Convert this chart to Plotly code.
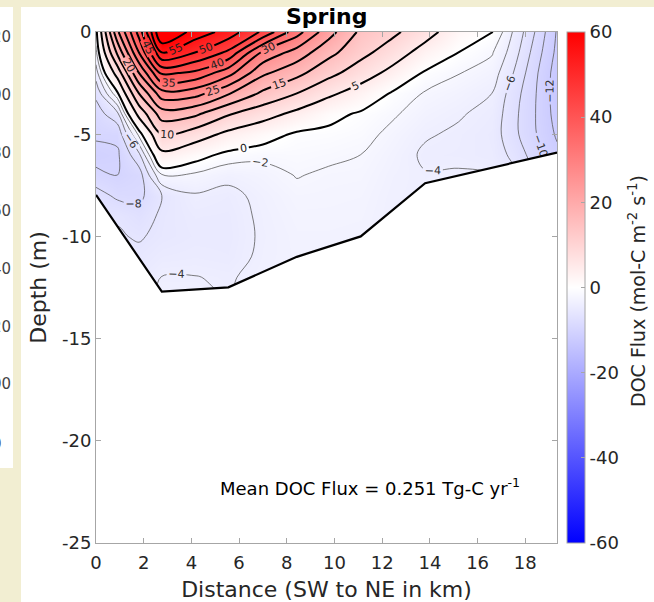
import plotly.graph_objects as go

# ---------------- data ----------------
DIST_KM = [0, 0.9, 1.8, 2.76, 4.15, 5.55, 7.0, 8.42, 9.75, 11.1, 12.45, 13.8, 15.2, 16.6, 17.5, 18.4, 19.33]
DEPTH_M = [0, -1, -2, -3, -4, -5, -6, -7, -8, -9, -10, -11, -12, -13]

# DOC flux, one list per depth level (top to bottom), one value per station
FLUX_0 = [-1, 24, 42, 66, 58, 53, 44, 32, 22, 14, 11, 7, 2, 0.2, -4.2, -8.0, -12.2]
FLUX_1 = [-2.5, 16, 35, 55, 50, 44, 29, 23, 16.5, 11.5, 7.5, 3, 0, -1.8, -5.0, -8.8, -12.5]
FLUX_2 = [-5, 7, 25, 41, 39, 32, 21, 16.5, 11.5, 7.5, 3.5, -0.4, -1.9, -3.0, -6.0, -9.5, -13]
FLUX_3 = [-7.5, -0.5, 15, 28, 27, 20.5, 14, 10, 6, 2.8, -0.4, -2.2, -3.0, -4.0, -7.0, -9.8, -13]
FLUX_4 = [-9, -6.5, 6.5, 17.5, 16, 10.5, 7, 3.8, 1, -0.4, -1.7, -3.1, -3.8, -4.6, -7.4, -9.9, -12.8]
FLUX_5 = [-9.6, -9.5, -1.5, 10, 7.5, 3.8, 1.5, -0.5, -0.7, -1.2, -2.6, -3.8, -4.3, -4.9, -7.4, -9.8, -12.3]
FLUX_6 = [-10.8, -10.3, -6.5, 3.8, 1.3, -0.8, -1.5, -1.3, -1.6, -2.0, -3.1, -4.3, -4.4, -4.8, -6.5, -9.0, -11.5]
FLUX_7 = [-9.5, -10.0, -9, -2.2, -2.4, -3.4, -2.8, -1.9, -2.3, -2.4, -3.4, -3.9, -3.8, -4.0, -5.5, -8.0, -10.5]
FLUX_8 = [-7.0, -8.5, -8.6, -6.0, -4.2, -4.6, -3.4, -2.5, -2.6, -2.7, -3.6, -3.8, -3.8, -4.0, -5.5, -8.0, -10.5]
FLUX_9 = [-6.5, -6.2, -7.2, -5.6, -4.8, -4.9, -3.6, -2.8, -2.8, -2.9, -3.7, -3.8, -3.8, -4.0, -5.5, -8.0, -10.5]
FLUX_10 = [-6, -5.8, -6.2, -5.5, -5.0, -5.0, -3.7, -3.0, -3.0, -3.1, -3.7, -3.8, -3.8, -4.0, -5.5, -8.0, -10.5]
FLUX_11 = [-5.5, -5.5, -5.5, -4.8, -4.6, -4.8, -3.6, -3.1, -3.1, -3.2, -3.7, -3.8, -3.8, -4.0, -5.5, -8.0, -10.5]
FLUX_12 = [-5, -5, -5, -3.95, -3.95, -4.2, -3.4, -3.1, -3.1, -3.2, -3.7, -3.8, -3.8, -4.0, -5.5, -8.0, -10.5]
FLUX_13 = [-5, -5, -5, -3.6, -3.6, -4.0, -3.3, -3.1, -3.1, -3.2, -3.7, -3.8, -3.8, -4.0, -5.5, -8.0, -10.5]
FLUX = [FLUX_0, FLUX_1, FLUX_2, FLUX_3, FLUX_4, FLUX_5, FLUX_6, FLUX_7,
        FLUX_8, FLUX_9, FLUX_10, FLUX_11, FLUX_12, FLUX_13]

# sea-floor along the transect
BOTTOM_X = [0, 2.76, 5.55, 8.42, 11.1, 13.8, 19.33]
BOTTOM_Y = [-7.97, -12.7, -12.49, -11.0, -10.0, -7.4, -5.9]

X_TICKS = [0, 2, 4, 6, 8, 10, 12, 14, 16, 18]
Y_TICKS = [-25, -20, -15, -10, -5, 0]
CB_TICKS = [-60, -40, -20, 0, 20, 40, 60]
X_RANGE = [0, 19.33]
Y_RANGE = [-25, 0]

# partial labels of a neighbouring figure visible at the far left
SIDE_LABELS = ["20", "00", "80", "60", "40", "20", "00", "0"]
SIDE_LABEL_Y = [37, 95, 153, 211, 269, 327, 384, 444]

# ---------------- figure ----------------
W, H = 654, 602
L, R, T, B = 96, 97, 32, 59
PW, PH = W - L - R, H - T - B
FONT = "DejaVu Sans"
TXT = "#262626"
AX = "#a6a6a6"
CREAM = "#f2eed2"


def px(xp):
    return (xp - L) / PW


def py(yp):
    return (H - B - yp) / PH


def labels(vals):
    return [str(v) for v in vals]


fig = go.Figure()

fig.add_trace(go.Heatmap(
    x=DIST_KM, y=DEPTH_M, z=FLUX, zsmooth="best",
    zmin=-60, zmax=60,
    colorscale=[[0, "rgb(0,0,255)"], [0.5, "rgb(255,255,255)"], [1, "rgb(255,0,0)"]],
    hoverinfo="skip",
    colorbar=dict(
        thickness=18, thicknessmode="pixels", len=PH, lenmode="pixels",
        x=px(567), xanchor="left", xpad=0, y=0.5, yanchor="middle", ypad=0,
        outlinecolor=AX, outlinewidth=1,
        tickvals=CB_TICKS, ticktext=labels(CB_TICKS), ticks="inside", ticklen=4, tickcolor=AX,
        tickfont=dict(family=FONT, size=18, color=TXT),
    ),
))

fig.add_trace(go.Contour(
    x=DIST_KM, y=DEPTH_M, z=FLUX, showscale=False,
    contours=dict(start=-12, end=-2, size=2, showlabels=True, coloring="none",
                  labelfont=dict(family=FONT, size=11, color="#333333")),
    line=dict(color="#5a5a5a", width=0.8), hoverinfo="skip",
))

fig.add_trace(go.Contour(
    x=DIST_KM, y=DEPTH_M, z=FLUX, showscale=False,
    contours=dict(start=0, end=60, size=5, showlabels=True, coloring="none",
                  labelfont=dict(family=FONT, size=11, color="#222222")),
    line=dict(color="black", width=2), hoverinfo="skip",
))

# white mask below the sea-floor
pad_x = 0.05 * (X_RANGE[1] - X_RANGE[0])
mask_x = [X_RANGE[0] - pad_x] + BOTTOM_X + [X_RANGE[1] + pad_x, X_RANGE[1] + pad_x, X_RANGE[0] - pad_x]
mask_y = [BOTTOM_Y[0]] + BOTTOM_Y + [BOTTOM_Y[-1], Y_RANGE[0] - 1, Y_RANGE[0] - 1]
fig.add_trace(go.Scatter(x=mask_x, y=mask_y, fill="toself", fillcolor="white",
                         mode="none", hoverinfo="skip", showlegend=False))
fig.add_trace(go.Scatter(x=BOTTOM_X, y=BOTTOM_Y, mode="lines",
                         line=dict(color="black", width=2.2),
                         hoverinfo="skip", showlegend=False))

axis_common = dict(showgrid=False, zeroline=False, showline=True, linecolor=AX,
                   linewidth=1, mirror="ticks", ticks="inside", ticklen=5,
                   tickcolor=AX, tickfont=dict(family=FONT, size=18, color=TXT))

fig.update_layout(
    width=W, height=H, margin=dict(l=L, r=R, t=T, b=B, autoexpand=False),
    paper_bgcolor="white", plot_bgcolor="white", showlegend=False,
    xaxis=dict(range=X_RANGE, tickvals=X_TICKS, ticktext=labels(X_TICKS),
               ticklabelstandoff=3,
               title=dict(text="Distance (SW to NE in km)", standoff=10,
                          font=dict(family=FONT, size=22, color=TXT)),
               **axis_common),
    yaxis=dict(range=Y_RANGE, tickvals=Y_TICKS, ticktext=labels(Y_TICKS),
               title=dict(text="Depth (m)", standoff=9,
                          font=dict(family=FONT, size=22, color=TXT)),
               **axis_common),
    shapes=[
        dict(type="rect", xref="paper", yref="paper", x0=px(0), x1=px(W), y0=py(0), y1=py(7),
             fillcolor=CREAM, line_width=0, layer="below"),
        dict(type="rect", xref="paper", yref="paper", x0=px(13), x1=px(21), y0=py(0), y1=py(H),
             fillcolor=CREAM, line_width=0, layer="below"),
        dict(type="rect", xref="paper", yref="paper", x0=px(0), x1=px(13), y0=py(468), y1=py(H),
             fillcolor=CREAM, line_width=0, layer="below"),
    ],
)

fig.add_annotation(text="<b>Spring</b>", xref="paper", yref="paper", x=0.5, y=py(17),
                   xanchor="center", yanchor="middle", showarrow=False,
                   font=dict(family=FONT, size=22, color="black"))
fig.add_annotation(text="Mean DOC Flux = 0.251 Tg-C yr<sup>-1</sup>", xref="paper", yref="paper",
                   x=px(370), y=py(487), xanchor="center", yanchor="middle", showarrow=False,
                   font=dict(family=FONT, size=18, color="black"))
fig.add_annotation(text="DOC Flux (mol-C m<sup>-2</sup> s<sup>-1</sup>)", xref="paper", yref="paper",
                   x=px(637), y=py(291), xanchor="center", yanchor="middle", showarrow=False,
                   textangle=-90, font=dict(family=FONT, size=19, color=TXT))
for lab, yy in zip(SIDE_LABELS, SIDE_LABEL_Y):
    xr = 4 if lab == "0" else 13
    fig.add_annotation(text=lab, xref="paper", yref="paper", x=px(xr), y=py(yy),
                       xanchor="right", yanchor="middle", showarrow=False,
                       font=dict(family=FONT, size=15, color="#444444"))

fig.write_html("out.html", config={"displayModeBar": False},
               post_script="document.body.style.margin='0px';")
